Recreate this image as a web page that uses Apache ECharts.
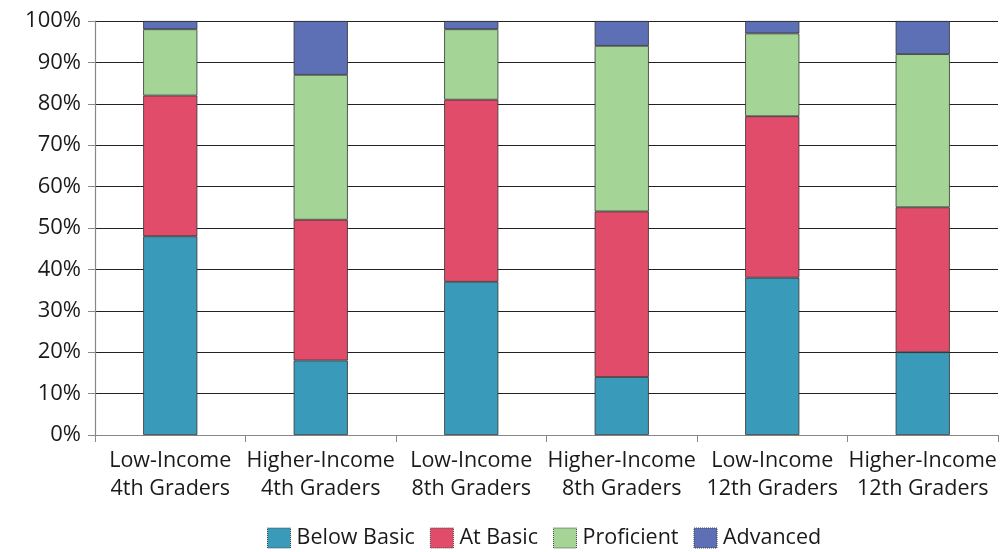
<!DOCTYPE html>
<html>
<head>
<meta charset="utf-8">
<script src="https://cdn.jsdelivr.net/npm/echarts@6/dist/echarts.min.js"></script>
<style>
html,body{margin:0;padding:0;background:#fff;}
#chart{width:1003px;height:552px;}
</style>
</head>
<body>
<div id="chart"></div>
<script>
const categories = ['Low-Income\n4th Graders','Higher-Income\n4th Graders','Low-Income\n8th Graders','Higher-Income\n8th Graders','Low-Income\n12th Graders','Higher-Income\n12th Graders'];
const belowBasic = [48, 18, 37, 14, 38, 20];
const atBasic = [34, 34, 44, 40, 39, 35];
const proficient = [16, 35, 17, 40, 20, 37];
const advanced = [2, 13, 2, 6, 3, 8];
const yTicks = [0,10,20,30,40,50,60,70,80,90,100];

const colors = ['#3a9aba', '#e04c69', '#a5d596', '#5d70b6'];
const font = '"Open Sans", "Noto Sans", sans-serif';

function mk(name, data, color) {
  return {
    name: name, type: 'bar', stack: 'total', data: data, barWidth: '36%',
    itemStyle: { color: color, borderColor: '#333', borderWidth: 0.8 }
  };
}

const chart = echarts.init(document.getElementById('chart'), null, {renderer: 'canvas'});
chart.setOption({
  animation: false,
  grid: { left: 95, right: 5, top: 21, bottom: 117 },
  legend: {
    top: 527, left: 267, itemWidth: 23, itemHeight: 20, itemGap: 15,
    padding: 0, icon: 'rect',
    textStyle: { fontFamily: font, fontSize: 21.5, color: '#1a1a1a', padding: [0,0,0,1] },
    itemStyle: { borderColor: '#444', borderWidth: 1, borderType: 'dotted' },
    data: ['Below Basic','At Basic','Proficient','Advanced']
  },
  xAxis: {
    type: 'category', data: categories,
    axisLine: { lineStyle: { color: '#888', width: 1.2 } },
    axisTick: { show: true, length: 7, interval: 0, lineStyle: { color: '#888' } },
    axisLabel: { interval: 0, fontFamily: font, fontSize: 21.5, color: '#1a1a1a', lineHeight: 28, margin: 12 }
  },
  yAxis: {
    type: 'value', min: 0, max: 100, interval: 10,
    axisLine: { show: true, lineStyle: { color: '#888', width: 1.2 } },
    axisTick: { show: true, length: 7, lineStyle: { color: '#888' } },
    splitLine: { lineStyle: { color: '#222', width: 1.1 } },
    axisLabel: { formatter: '{value}%', fontFamily: font, fontSize: 22, color: '#1a1a1a', margin: 14 }
  },
  series: [
    mk('Below Basic', belowBasic, colors[0]),
    mk('At Basic', atBasic, colors[1]),
    mk('Proficient', proficient, colors[2]),
    mk('Advanced', advanced, colors[3])
  ]
});
</script>
</body>
</html>
